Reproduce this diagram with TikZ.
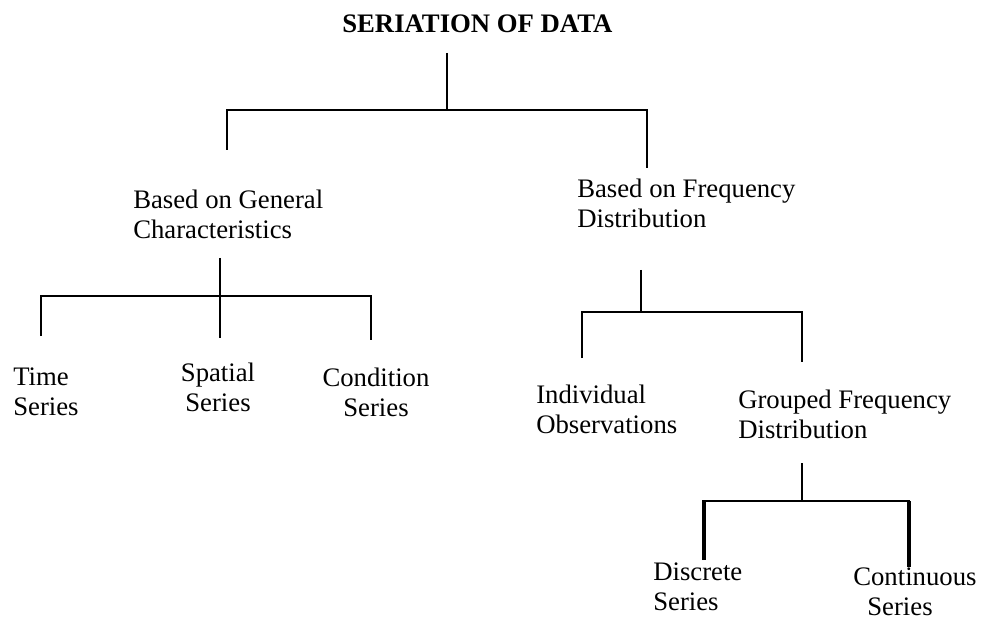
\documentclass[tikz,border=0pt]{standalone}
\usepackage{fontspec}
\setmainfont{Liberation Serif}
\usetikzlibrary{positioning}

\begin{document}
\begin{tikzpicture}[x=0.025cm, y=-0.025cm,
  every node/.style={font=\fontsize{19}{21}\selectfont, inner sep=0pt},
  lbl/.style={anchor=north west, align=left},
  clbl/.style={anchor=north, align=center},
  link/.style={line width=1.3pt},
  heavy/.style={line width=2.3pt}]
  \useasboundingbox (0,0) rectangle (990,622);

  % Title
  \node[lbl, font=\fontsize{19}{21}\selectfont\bfseries] (title) at (342,15) {SERIATION OF DATA};
  \coordinate (top) at (447,53);
  \coordinate (j0) at (447,110);
  \coordinate (gen-in) at (227,150);
  \coordinate (freq-in) at (647,168);
  \draw[link] (top) -- (j0);
  \draw[link] (gen-in) |- (j0) -| (freq-in);

  % General characteristics
  \node[lbl] (gen) at (133,190) {Based on General\\Characteristics};
  \coordinate (gen-out) at (220,258);
  \coordinate (j1) at (220,296);
  \coordinate (time-in) at (41,336);
  \coordinate (spat-in) at (220,338);
  \coordinate (cond-in) at (371,340);
  \draw[link] (gen-out) -- (spat-in);
  \draw[link] (time-in) |- (j1) -| (cond-in);
  \node[lbl] (time) at (13,368) {Time\\Series};
  \node[clbl] (spat) at (218,363) {Spatial\\Series};
  \node[clbl] (cond) at (376,368) {Condition\\Series};

  % Frequency distribution
  \node[lbl] (freq) at (577,179) {Based on Frequency\\Distribution};
  \coordinate (freq-out) at (641,270);
  \coordinate (j2) at (641,312);
  \coordinate (indiv-in) at (582,358);
  \coordinate (group-in) at (802,362);
  \draw[link] (freq-out) -- (j2);
  \draw[link] (indiv-in) |- (j2) -| (group-in);
  \node[lbl] (indiv) at (536,385) {Individual\\Observations};
  \node[lbl] (group) at (738,390) {Grouped Frequency\\Distribution};

  % Grouped frequency
  \coordinate (group-out) at (802,463);
  \coordinate (j3) at (802,501);
  \coordinate (disc-in) at (704,560);
  \coordinate (cont-in) at (909,567);
  \draw[link] (group-out) -- (j3);
  \draw[link] (disc-in) |- (j3) -| (cont-in);
  \draw[heavy] (disc-in) -- ++(0,-60);
  \draw[heavy] (cont-in) -- ++(0,-66);
  \node[lbl] (disc) at (653,563) {Discrete\\Series};
  \node[lbl] (cont) at (853,568) {Continuous\\\hspace{10pt}Series};
\end{tikzpicture}
\end{document}
